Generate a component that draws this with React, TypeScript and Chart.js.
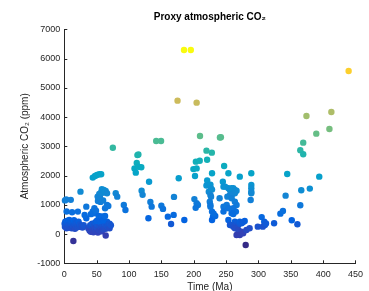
import React, { useEffect, useRef } from 'react';
import { Chart, registerables } from 'chart.js';
Chart.register(...registerables);

// Cenozoic (0-35 Ma)
const timeA = [0.5, 1, 1.5, 2, 3, 3.5, 4, 5, 5.5, 6, 7, 7.5, 8, 9, 9.5, 10, 11, 11.5, 12, 13, 14, 14.5, 15, 16, 16.5, 17, 18, 19, 20, 21, 22, 23, 24, 26, 28, 30,
  1, 3, 10, 3.5, 12, 21, 25, 34, 34, 31.4, 14];
const co2A = [350, 250, 420, 300, 380, 200, 450, 300, 250, 400, 330, 480, 220, 380, 280, 450, 350, 200, 420, 300, 380, 250, 470, 330, 180, 400, 280, 350, 230, 300, 420, 250, 330, 280, 220, 300,
  1150, 1180, 1170, 770, 745, 767, 1450, 937, 540, 653, -236];

// 36-72 Ma
const timeB = [37, 39, 40, 41, 42, 43, 44, 45, 46, 47, 48, 49, 50, 51, 52, 53, 54, 55, 56, 57, 58, 59, 60, 61, 62, 63, 64, 65, 66, 67, 68, 69, 70,
  41, 44, 45.5, 46.5, 49, 50, 53, 55, 58, 60, 63,
  52, 56, 60, 63, 66, 68,
  51.5, 54, 55, 56.5, 58, 59, 61, 61.5, 63, 64, 66,
  44, 47.5, 50.5, 54, 57,
  64, 70, 72];
const co2B = [200, 120, 300, 80, 250, 350, 150, 60, 280, 180, 400, 100, 220, 320, 50, 150, 260, 120, 380, 200, 90, 300, 170, 420, 250, 350, 180, 300, 420, 250, 330, 280, 200,
  680, 770, 710, 880, 800, 450, 620, 450, 600, 470, 620,
  1130, 1100, 1150, 880, 995, 960,
  1280, 1370, 1260, 1415, 1530, 1415, 1510, 1430, 1450, 1475, 1395,
  1930, 1985, 2020, 2045, 2045,
  -50, 350, 300];

// 72-195 Ma
const timeC = [75, 79.5, 81.8, 92, 94.5, 108.5, 110.5, 112, 113, 114.5, 114.5, 119, 119.5, 121, 131, 130, 133, 135,
  142, 149.5, 150, 152.5, 160, 165, 169, 169.5, 176.8, 175, 185, 195.5, 185.5];
const co2C = [2950, 1395, 1279, 995, 824, 2240, 2100, 2430, 2700, 2720, 2300, 2285, 1480, 1340, 1790, 540, 1100, 937,
  3180, 3180, 970, 860, 595, 345, 655, 1270, 1910, 4560, 6290, 6290, 480];

// 195-295 Ma
const timeD = [201, 204.5, 206.5, 203, 199.5, 204.5, 202, 203.3, 209.3, 209.7, 204.5,
  219.7, 220.7, 228, 228.3, 220.8, 219.7, 225.8, 228.3, 223.3, 226.8, 225.8, 226.8, 224.8, 225.8, 228.3, 229.8, 228.3, 225.8, 233.3, 230.8,
  240, 245, 246, 247, 253.6, 242, 240.5,
  248.5, 253.6, 256, 258.6, 261.2, 263.6, 266.2, 263.6, 261.2, 258.6, 256,
  252, 258.6, 263.6, 266.2, 261.2, 265.2,
  246, 251, 253.6, 246,
  258.6, 261.2, 253.6, 256,
  263.6, 266.2, 268.8, 271.2, 273.8, 278.8, 276,
  258.6, 261.2, 263.6,
  268.8, 273.8, 266.2, 271.2, 276.4, 281.4, 286.4, 280.3,
  271.2, 289, 289, 289, 289, 289, 288];
const co2D = [1195, 1055, 995, 895, 2220, 2245, 1986, 2475, 2505, 3354, 4493,
  2851, 2540, 2783, 2079, 1830, 1660, 1690, 1520, 1450, 1560, 1337, 1279, 1108, 995, 767, 595, 482, 937, 619, 700,
  1224, 1792, 1620, 2328, 2079, 3310, 3300,
  1620, 1566, 1508, 1566, 1566, 1508, 1484, 1395, 1395, 1337, 1337,
  1279, 1224, 1108, 995, 882, 767,
  937, 995, 882, 767,
  711, 687, 482, 311,
  424, 369, 311, 424, 369, 448, 400,
  311, 253, 198,
  140, 82, -31, -31, 27, 140, 198, -373,
  1963, 2079, 1679, 1566, 1450, 1395, 1166];

// 295-450 Ma
const timeE = [299, 305, 309, 310, 306.7, 311.7, 324.2, 333.9, 337.9, 342, 344.5, 351.5, 360.2, 364.7, 366.2, 379.4,
  364.7, 369.2, 369.2, 374.2, 389.4, 394, 409.7, 412.7, 439.4];
const co2E = [253, 580, 424, 311, 253, 360, 369, 698, 790, 1313, 2055, 472, 335, 985, 1497, 1553,
  2865, 3125, 2728, 4038, 3433, 1963, 3593, 4175, 5576];

const xMin = 0, xMax = 450, xStep = 50;
const yMin = -1000, yMax = 7000, yStep = 1000;

// parula colormap samples: [position, r, g, b]
const parulaStops: number[][] = [
  [0 / 63, 53, 42, 135], [4 / 63, 50, 67, 186], [8 / 63, 3, 99, 225], [12 / 63, 13, 117, 220],
  [16 / 63, 20, 133, 212], [20 / 63, 9, 152, 209], [24 / 63, 6, 167, 198], [28 / 63, 21, 177, 180],
  [32 / 63, 56, 185, 158], [36 / 63, 101, 190, 134], [40 / 63, 146, 191, 115], [44 / 63, 183, 189, 100],
  [48 / 63, 217, 186, 86], [52 / 63, 248, 187, 68], [56 / 63, 252, 206, 46], [60 / 63, 245, 228, 29],
  [63 / 63, 249, 251, 14],
];

function parula(t: number) {
  const tt = Math.max(0, Math.min(1, t));
  let i = 0;
  while (i < parulaStops.length - 2 && tt > parulaStops[i + 1][0]) i++;
  const a = parulaStops[i], b = parulaStops[i + 1];
  const f = (tt - a[0]) / (b[0] - a[0]);
  const c = [1, 2, 3].map(k => Math.round(a[k] + (b[k] - a[k]) * f));
  return `rgb(${c[0]},${c[1]},${c[2]})`;
}

const FONT = 'Liberation Sans, Arial, Helvetica, sans-serif';
const AXIS = '#262626';

export default function App() {
  const ref = useRef<HTMLCanvasElement | null>(null);
  useEffect(() => {
    const times = [...timeA, ...timeB, ...timeC, ...timeD, ...timeE];
    const co2 = [...co2A, ...co2B, ...co2C, ...co2D, ...co2E];
    const points = times.map((x, i) => ({ x, y: co2[i] }));
    const lo = Math.min(...co2), hi = Math.max(...co2);
    const colors = co2.map(v => parula((v - lo) / (hi - lo)));

    const inwardTicks = {
      id: 'inwardTicks',
      afterDraw(chart: any) {
        const { ctx, chartArea, scales } = chart;
        const x = scales.x, y = scales.y;
        ctx.save();
        ctx.strokeStyle = AXIS;
        ctx.lineWidth = 1;
        x.ticks.forEach((t: any) => {
          const px = Math.round(x.getPixelForValue(t.value)) + 0.5;
          ctx.beginPath();
          ctx.moveTo(px, chartArea.bottom);
          ctx.lineTo(px, chartArea.bottom - 3);
          ctx.stroke();
        });
        y.ticks.forEach((t: any) => {
          const py = Math.round(y.getPixelForValue(t.value)) + 0.5;
          ctx.beginPath();
          ctx.moveTo(chartArea.left, py);
          ctx.lineTo(chartArea.left + 3, py);
          ctx.stroke();
        });
        ctx.restore();
      },
    };

    const chart = new Chart(ref.current as HTMLCanvasElement, {
      type: 'scatter',
      data: {
        datasets: [{
          data: points,
          pointBackgroundColor: colors,
          pointBorderColor: colors,
          pointRadius: 3.2,
          pointBorderWidth: 0,
          pointHoverRadius: 3.2,
          clip: false as any,
        }],
      },
      options: {
        animation: false,
        responsive: false,
        layout: { padding: { left: 0, right: 8, top: 0, bottom: 0 } },
        plugins: {
          legend: { display: false },
          tooltip: { enabled: false },
          title: {
            display: true,
            text: 'Proxy atmospheric CO₂',
            fullSize: false,
            color: '#000',
            font: { family: FONT, size: 10, weight: 'bold' },
            padding: { top: 11, bottom: 6.3 },
          },
        },
        scales: {
          x: {
            type: 'linear',
            min: xMin, max: xMax,
            grid: { display: false, drawTicks: false },
            border: { display: true, color: AXIS, width: 1 },
            ticks: { stepSize: xStep, color: AXIS, font: { family: FONT, size: 9 }, padding: 6, maxRotation: 0, callback: (v: any) => String(v) },
            title: { display: true, text: 'Time (Ma)', color: AXIS, font: { family: FONT, size: 10 }, padding: { top: 0, bottom: -2.5 } },
            afterFit: (s: any) => { s.height = 27.7; },
          },
          y: {
            type: 'linear',
            min: yMin, max: yMax,
            grid: { display: false, drawTicks: false },
            border: { display: true, color: AXIS, width: 1 },
            ticks: { stepSize: yStep, color: AXIS, font: { family: FONT, size: 9 }, padding: 4, callback: (v: any) => String(v) },
            title: { display: true, text: 'Atmospheric CO₂ (ppm)', color: AXIS, font: { family: FONT, size: 10 }, padding: { top: 19, bottom: 0 } },
            afterFit: (s: any) => { s.width = 64.3; },
          },
        },
      },
      plugins: [inwardTicks],
    } as any);
    return () => chart.destroy();
  }, []);
  return (
    <div style={{ position: 'fixed', left: 0, top: 0, width: 369, height: 291, background: '#fff' }}>
      <canvas ref={ref} width={369} height={291} style={{ display: 'block' }} />
    </div>
  );
}
